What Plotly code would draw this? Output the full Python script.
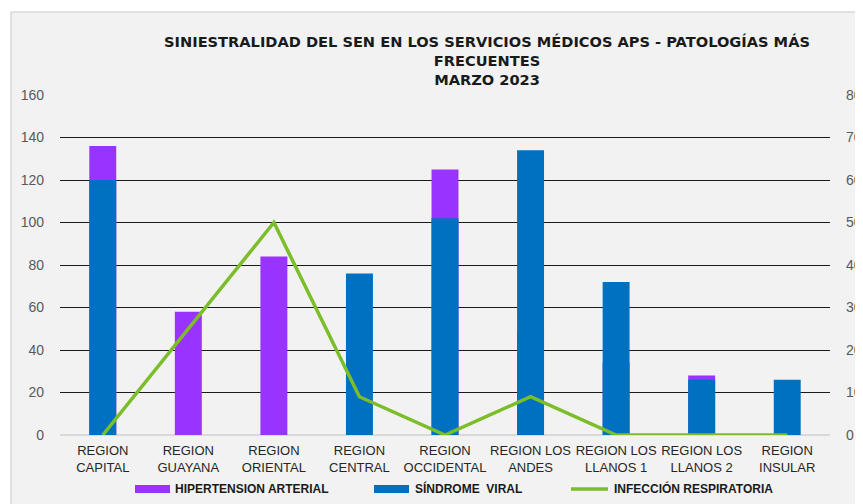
import plotly.graph_objects as go

categories = ["REGION<br>CAPITAL", "REGION<br>GUAYANA", "REGION<br>ORIENTAL", "REGION<br>CENTRAL",
              "REGION<br>OCCIDENTAL", "REGION LOS<br>ANDES", "REGION LOS<br>LLANOS 1", "REGION LOS<br>LLANOS 2",
              "REGION<br>INSULAR"]
hipertension = [136, 58, 84, 0, 125, 49, 34, 28, 0]
sindrome_viral = [120, 0, 0, 76, 102, 134, 72, 26, 26]
infeccion_resp = [0, 25, 50, 9, 0, 9, 0, 0, 0]
left_ticks = [0, 20, 40, 60, 80, 100, 120, 140, 160]
right_ticks = [0, 10, 20, 30, 40, 50, 60, 70, 80]
series_names = ["HIPERTENSION ARTERIAL", "SÍNDROME  VIRAL", "INFECCIÓN RESPIRATORIA"]

PURPLE = "#9933ff"
BLUE = "#0070c0"
GREEN = "#7cbd2a"
FONT = "Liberation Sans, Arial, sans-serif"

# the page body adds an 8px offset, so the figure is laid out in page coords minus 8
OFF = 8
W, H = 863 - OFF, 504 - OFF
ML, MR, MT, MB = 60 - OFF, 33, 95 - OFF, 69
PW, PH = W - ML - MR, H - MT - MB


def px(x):
    """page x -> paper x"""
    return (x - OFF - ML) / PW


def py(y):
    """page y -> paper y"""
    return (H - MB - (y - OFF)) / PH


fig = go.Figure()
fig.add_trace(go.Bar(x=categories, y=hipertension, name=series_names[0],
                     marker=dict(color=PURPLE, line=dict(width=0)), width=0.315, showlegend=False))
fig.add_trace(go.Bar(x=categories, y=sindrome_viral, name=series_names[1],
                     marker=dict(color=BLUE, line=dict(width=0)), width=0.315, showlegend=False))
fig.add_trace(go.Scatter(x=categories, y=infeccion_resp, name=series_names[2],
                         mode="lines", line=dict(color=GREEN, width=3.5), yaxis="y2", showlegend=False))

shapes = [
    # white margin (left / top) and the chart-area border
    dict(type="rect", xref="paper", yref="paper", layer="below",
         x0=px(0), x1=px(11), y0=py(H + OFF + 5), y1=py(0), fillcolor="white", line=dict(width=0)),
    dict(type="rect", xref="paper", yref="paper", layer="below",
         x0=px(0), x1=px(W + OFF + 5), y0=py(12), y1=py(0), fillcolor="white", line=dict(width=0)),
    dict(type="line", xref="paper", yref="paper", layer="below",
         x0=px(11), x1=px(11), y0=py(12), y1=py(H + OFF + 5), line=dict(color="#d9d9d9", width=1.5)),
    dict(type="line", xref="paper", yref="paper", layer="below",
         x0=px(11), x1=px(W + OFF + 5), y0=py(12), y1=py(12), line=dict(color="#d9d9d9", width=1.5)),
    # legend swatches
    dict(type="rect", xref="paper", yref="paper", x0=px(135), x1=px(170), y0=py(493), y1=py(485),
         fillcolor=PURPLE, line=dict(width=0)),
    dict(type="rect", xref="paper", yref="paper", x0=px(374), x1=px(409), y0=py(493), y1=py(485),
         fillcolor=BLUE, line=dict(width=0)),
    dict(type="line", xref="paper", yref="paper", x0=px(571), x1=px(608), y0=py(489), y1=py(489),
         line=dict(color=GREEN, width=3.5)),
]

annotations = [
    dict(text="<b>%s</b>" % name, xref="paper", yref="paper", x=px(xx), y=py(489),
         xanchor="left", yanchor="middle", showarrow=False,
         font=dict(family=FONT, size=12, color="#1a1a1a"))
    for name, xx in zip(series_names, [173, 413, 612])
]

fig.update_layout(
    width=W, height=H,
    barmode="overlay",
    paper_bgcolor="#f2f2f2",
    plot_bgcolor="#f2f2f2",
    margin=dict(l=ML, r=MR, t=MT, b=MB, autoexpand=False),
    showlegend=False,
    title=dict(text="<b>SINIESTRALIDAD DEL SEN EN LOS SERVICIOS MÉDICOS APS - PATOLOGÍAS MÁS<br>FRECUENTES<br>MARZO 2023</b>",
               x=(487 - OFF) / W, xref="container", xanchor="center",
               y=1 - 39 / H, yref="container", yanchor="top",
               font=dict(family="DejaVu Sans, sans-serif", size=14.6, color="#1a1a1a")),
    xaxis=dict(tickfont=dict(family=FONT, size=13, color="#262626"), showgrid=False,
               showline=False, ticks="", automargin=False, ticklabelstandoff=6),
    yaxis=dict(range=[0, 160], tickvals=left_ticks, showgrid=True, gridcolor="#1a1a1a",
               gridwidth=1, zeroline=True, zerolinecolor="#d9d9d9", zerolinewidth=1.5,
               tickfont=dict(family=FONT, size=14, color="#595959"), ticks="",
               ticklabelstandoff=15, automargin=False),
    yaxis2=dict(range=[0, 80], tickvals=right_ticks, overlaying="y", side="right",
                showgrid=False, zeroline=False,
                tickfont=dict(family=FONT, size=14, color="#595959"), ticks="",
                ticklabelstandoff=15, automargin=False),
    shapes=shapes,
    annotations=annotations,
)

fig.write_html("out.html")
